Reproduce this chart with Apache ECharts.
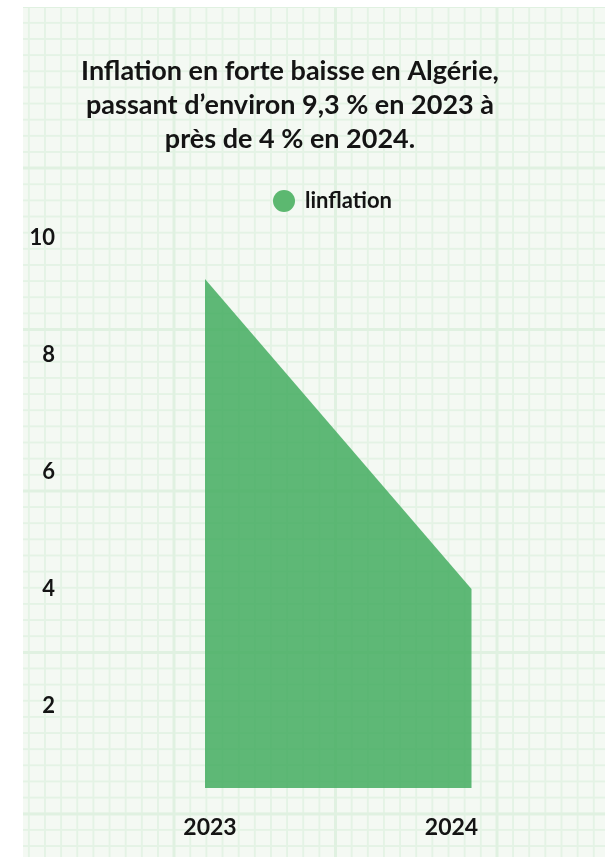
<!DOCTYPE html>
<html>
<head>
<meta charset="utf-8">
<script src="https://cdn.jsdelivr.net/npm/echarts@6/dist/echarts.min.js"></script>
<style>
  html, body { margin:0; padding:0; width:605px; height:857px; background:#ffffff; overflow:hidden; }
  #paper {
    position:absolute; left:23px; top:7px; right:0; bottom:0;
    background-color:#f4f9f3;
    background-image:
      linear-gradient(to right, #e0f1e1 3px, transparent 3px),
      linear-gradient(to bottom, #e0f1e1 3px, transparent 3px),
      linear-gradient(to right, #e4f3e5 1.5px, transparent 1.5px),
      linear-gradient(to bottom, #e4f3e5 1.5px, transparent 1.5px);
    background-size: 161.5px 161.5px, 161.5px 161.5px, 16.15px 16.15px, 16.15px 16.15px;
    background-position: 149.5px 0, 0 159.5px, 4.9px 0, 0 14.9px;
  }
  #chart { position:absolute; left:0; top:0; width:605px; height:857px; }
</style>
</head>
<body>
<div id="paper"></div>
<div id="chart"></div>
<script>
const categories = ['2023', '2024'];
const inflationValues = [9.3, 4.0];
const yTicks = [0, 2, 4, 6, 8, 10];
const seriesName = 'linflation';
const titleLines = [
  'Inflation en forte baisse en Algérie,',
  'passant d\u2019environ 9,3 % en 2023 à',
  'près de 4 % en 2024.'
];

const FONT = 'Lato, "Noto Sans", sans-serif';
const INK = '#141414';
const GREEN = '#3daa5a';
const LEGEND_GREEN = '#5cb870';

const chart = echarts.init(document.getElementById('chart'), null, { renderer: 'canvas' });
chart.setOption({
  backgroundColor: 'transparent',
  animation: false,
  title: {
    text: titleLines.join('\n'),
    left: 285,
    top: 49,
    textAlign: 'center',
    textStyle: {
      fontFamily: FONT, fontWeight: 'bold', fontSize: 27, lineHeight: 34, color: INK
    }
  },
  legend: {
    data: [seriesName],
    left: 268,
    top: 185,
    icon: 'circle',
    itemWidth: 22,
    itemHeight: 22,
    itemGap: 10,
    itemStyle: { color: LEGEND_GREEN },
    textStyle: { fontFamily: FONT, fontWeight: 'bold', fontSize: 22, color: INK, padding: [0, 0, 0, 5] }
  },
  grid: { left: 205, right: 133.5, top: 238, bottom: 34, containLabel: false },
  xAxis: {
    type: 'category',
    data: categories,
    boundaryGap: false,
    axisLine: { show: false },
    axisTick: { show: false },
    splitLine: { show: false },
    axisLabel: {
      margin: 5,
      verticalAlign: 'middle',
      color: INK,
      fontFamily: FONT,
      fontWeight: 'bold',
      fontSize: 23,
      formatter: v => v === categories[0] ? '{a|' + v + '}' : '{b|' + v + '}',
      rich: {
        a: { fontFamily: FONT, fontWeight: 'bold', fontSize: 23, color: INK, padding: [0, 0, 0, 10] },
        b: { fontFamily: FONT, fontWeight: 'bold', fontSize: 23, color: INK, padding: [0, 40, 0, 0] }
      }
    }
  },
  yAxis: {
    type: 'value',
    min: yTicks[0],
    max: yTicks[yTicks.length - 1],
    interval: 2,
    axisLine: { show: false },
    axisTick: { show: false },
    splitLine: { show: false },
    axisLabel: {
      margin: 150,
      color: INK,
      fontFamily: FONT,
      fontWeight: 'bold',
      fontSize: 22,
      formatter: v => (v === 0 ? '' : String(v))
    }
  },
  series: [{
    name: seriesName,
    type: 'line',
    data: inflationValues,
    showSymbol: false,
    symbol: 'none',
    itemStyle: { color: LEGEND_GREEN },
    lineStyle: { width: 0, color: GREEN },
    areaStyle: { color: GREEN, opacity: 0.82, origin: 0.6 }
  }]
});
</script>
</body>
</html>
